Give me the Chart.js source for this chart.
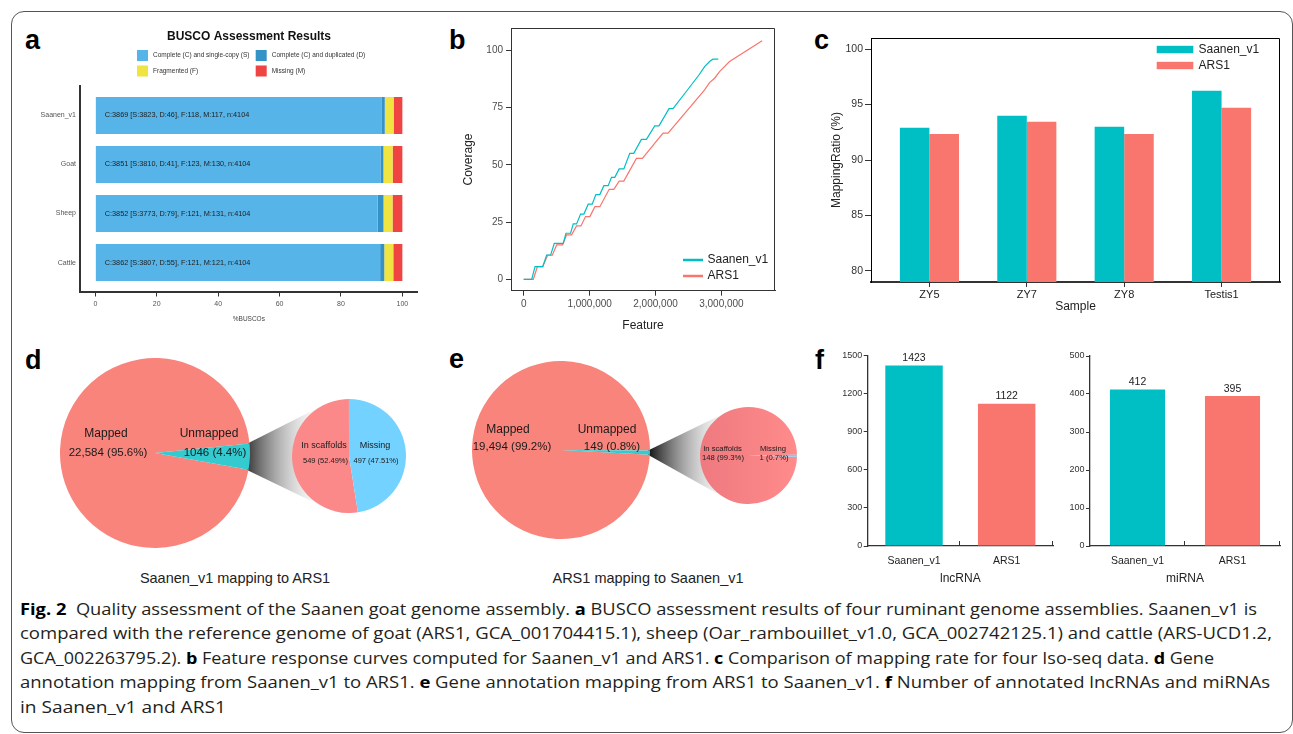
<!DOCTYPE html>
<html><head><meta charset="utf-8">
<script src="https://cdn.jsdelivr.net/npm/chart.js@4.4.1/dist/chart.umd.min.js"></script>
<style>
html,body{margin:0;padding:0;background:#fff;}
#root{position:relative;width:1293px;height:734px;overflow:hidden;background:#fff;font-family:'Liberation Sans',Arial,sans-serif;}
#frame{position:absolute;left:11px;top:11px;width:1282px;height:722px;border:1px solid #555;border-radius:13px;box-sizing:border-box;}
canvas{position:absolute;}
.lbl{position:absolute;font-weight:bold;font-size:27px;line-height:27px;color:#000;}
.ptitle{position:absolute;font-size:14.5px;line-height:16px;color:#222;transform:translateX(-50%);white-space:nowrap;}
.cap{position:absolute;left:20px;font-family:'Open Sans',sans-serif;font-size:16.5px;line-height:20px;color:#231f20;white-space:nowrap;transform-origin:0 50%;}
.cap b{color:#000;font-weight:700;}
</style></head>
<body><div id="root">
<div id="frame"></div>
<div class="lbl" style="left:25px;top:27px">a</div>
<div class="lbl" style="left:449px;top:27px">b</div>
<div class="lbl" style="left:814px;top:27px">c</div>
<div class="lbl" style="left:25px;top:347px">d</div>
<div class="lbl" style="left:449px;top:346px">e</div>
<div class="lbl" style="left:815px;top:347px">f</div>
<div class="ptitle" style="left:235px;top:570px">Saanen_v1 mapping to ARS1</div>
<div class="ptitle" style="left:648px;top:570px">ARS1 mapping to Saanen_v1</div>
<div class="cap" style="top:599px"><b>Fig. 2</b>&nbsp; Quality assessment of the Saanen goat genome assembly. <b>a</b> BUSCO assessment results of four ruminant genome assemblies. Saanen_v1 is</div>
<div class="cap" style="top:623px">compared with the reference genome of goat (ARS1, GCA_001704415.1), sheep (Oar_rambouillet_v1.0, GCA_002742125.1) and cattle (ARS-UCD1.2,</div>
<div class="cap" style="top:648px">GCA_002263795.2). <b>b</b> Feature response curves computed for Saanen_v1 and ARS1. <b>c</b> Comparison of mapping rate for four Iso-seq data. <b>d</b> Gene</div>
<div class="cap" style="top:672px">annotation mapping from Saanen_v1 to ARS1. <b>e</b> Gene annotation mapping from ARS1 to Saanen_v1. <b>f</b> Number of annotated lncRNAs and miRNAs</div>
<div class="cap" style="top:697px">in Saanen_v1 and ARS1</div>
</div>
<script>
// ================= DATA =================
// Panel a: BUSCO
const buscoGenomes = ['Saanen_v1', 'Goat', 'Sheep', 'Cattle'];
const buscoSingle  = [3823, 3810, 3773, 3807];
const buscoDup     = [46, 41, 79, 55];
const buscoFrag    = [118, 123, 121, 121];
const buscoMiss    = [117, 130, 131, 121];
const buscoTotal   = 4104;
const buscoLegend  = ['Complete (C) and single-copy (S)', 'Complete (C) and duplicated (D)', 'Fragmented (F)', 'Missing (M)'];
const buscoXTicks  = [0, 20, 40, 60, 80, 100];

// Panel b: feature response curves
const frcSeries = ['Saanen_v1', 'ARS1'];
const frcSaanenFeature  = [0, 121000, 172000, 288000, 348000, 409000, 464000, 600000, 641000, 711000, 752000, 802000, 863000, 913000, 979000, 1039000, 1095000, 1155000, 1216000, 1282000, 1332000, 1382000, 1448000, 1519000, 1609000, 1670000, 1786000, 1862000, 1988000, 2053000, 2205000, 2265000, 2467000, 2659000, 2745000, 2820000, 2871000, 2952000];
const frcSaanenCoverage = [0, 0, 5.5, 5.5, 10.6, 10.6, 15.7, 15.7, 20.1, 20.1, 24.2, 24.2, 28.5, 28.5, 32.8, 32.8, 37.0, 37.0, 40.9, 40.9, 44.5, 44.5, 48.2, 48.2, 55.0, 55.0, 61.1, 61.1, 67.0, 67.0, 74.5, 74.5, 82.0, 89.2, 92.9, 95.1, 96.1, 96.1];
const frcArsFeature  = [0, 146000, 207000, 288000, 363000, 434000, 500000, 590000, 651000, 727000, 802000, 868000, 938000, 1004000, 1080000, 1155000, 1297000, 1367000, 1448000, 1519000, 1710000, 1801000, 2114000, 2190000, 2745000, 2820000, 2896000, 2972000, 3123000, 3618000];
const frcArsCoverage = [0, 0, 5.5, 5.5, 10.5, 10.5, 15.0, 15.0, 19.4, 19.4, 23.3, 23.3, 27.4, 27.4, 31.7, 31.7, 39.3, 39.3, 42.9, 42.9, 52.8, 52.8, 63.8, 63.8, 82.7, 85.9, 87.8, 90.7, 95.1, 104.2];
const frcXTicks = [0, 1000000, 2000000, 3000000];
const frcYTicks = [0, 25, 50, 75, 100];

// Panel c: mapping ratio
const mapSamples = ['ZY5', 'ZY7', 'ZY8', 'Testis1'];
const mapSaanen  = [92.9, 94.0, 93.0, 96.25];
const mapArs     = [92.35, 93.45, 92.35, 94.7];
const mapYTicks  = [80, 85, 90, 95, 100];

// Panel d
const dLabels    = ['Mapped', 'Unmapped'];
const dCounts    = [22584, 1046];
const dSubLabels = ['In scaffolds', 'Missing'];
const dSubCounts = [549, 497];
// Panel e
const eLabels    = ['Mapped', 'Unmapped'];
const eCounts    = [19494, 149];
const eSubLabels = ['In scaffolds', 'Missing'];
const eSubCounts = [148, 1];

// Panel f
const fCategories = ['Saanen_v1', 'ARS1'];
const lncCounts   = [1423, 1122];
const miCounts    = [412, 395];
const lncYTicks   = [0, 300, 600, 900, 1200, 1500];
const miYTicks    = [0, 100, 200, 300, 400, 500];

// ================= SETUP =================
const CYAN = '#00BFC4', SALMON = '#F8766D';
const FONT = "'Liberation Sans', Arial, Helvetica, sans-serif";
Chart.defaults.font.family = FONT;
Chart.defaults.animation = false;
Chart.defaults.responsive = false;
Chart.defaults.devicePixelRatio = 1;
Chart.defaults.plugins.legend.display = false;
Chart.defaults.plugins.tooltip.enabled = false;
Chart.defaults.color = '#333';
const root = document.getElementById('root');

function mkCanvas(L, T, W, H, z) {
  const c = document.createElement('canvas');
  c.width = W; c.height = H;
  c.style.left = L + 'px'; c.style.top = T + 'px';
  c.style.width = W + 'px'; c.style.height = H + 'px';
  c.style.zIndex = z || 2;
  root.appendChild(c);
  return c;
}
function fitArea(L, T, W, H, a) {
  return { padding: {left: 0, top: a.t - T, right: (L + W) - a.r, bottom: 0}, xH: (T + H) - a.b, yW: a.l - L };
}
function off(chart) { return {x: parseFloat(chart.canvas.style.left), y: parseFloat(chart.canvas.style.top)}; }
const setTicks = arr => (s => { s.ticks = arr.map(v => ({value: v})); });

// ================= PANEL A =================
const buscoPlugin = {
  id: 'buscoDecor',
  afterDatasetsDraw(chart) {
    const ctx = chart.ctx, xs = chart.scales.x, ys = chart.scales.y, o = off(chart);
    ctx.save();
    ctx.font = '7.3px ' + FONT; ctx.fillStyle = '#222'; ctx.textBaseline = 'middle'; ctx.textAlign = 'left';
    buscoGenomes.forEach((g, i) => {
      const c = buscoSingle[i] + buscoDup[i];
      const t = `C:${c} [S:${buscoSingle[i]}, D:${buscoDup[i]}], F:${buscoFrag[i]}, M:${buscoMiss[i]}, n:${buscoTotal}`;
      ctx.fillText(t, xs.getPixelForValue(0) + 9.4, ys.getPixelForValue(i + 1));
    });
    ctx.font = 'bold 12px ' + FONT; ctx.fillStyle = '#111'; ctx.textAlign = 'center';
    ctx.fillText('BUSCO Assessment Results', 249 - o.x, 37 - o.y);
    const pos = [[137, 50], [255.7, 50], [137, 65.5], [255.7, 65.5]];
    ctx.font = '6.5px ' + FONT; ctx.textAlign = 'left';
    chart.data.datasets.forEach((d, i) => {
      const [px, py] = pos[i];
      ctx.fillStyle = d.backgroundColor;
      ctx.fillRect(px - o.x, py - o.y, 11, 11);
      ctx.fillStyle = '#333';
      ctx.fillText(d.label, px + 16 - o.x, py + 5.7 - o.y);
    });
    ctx.restore();
  }
};
(function () {
  const L = 0, T = 20, W = 430, H = 303;
  const f = fitArea(L, T, W, H, {l: 80, t: 86, r: 417.7, b: 292});
  const pts = arr => arr.map((v, i) => ({x: v / buscoTotal * 100, y: i + 1}));
  new Chart(mkCanvas(L, T, W, H), {
    type: 'bar',
    data: {datasets: [
      {label: buscoLegend[0], data: pts(buscoSingle), backgroundColor: '#56B4E9'},
      {label: buscoLegend[1], data: pts(buscoDup), backgroundColor: '#3492C7'},
      {label: buscoLegend[2], data: pts(buscoFrag), backgroundColor: '#F0E442'},
      {label: buscoLegend[3], data: pts(buscoMiss), backgroundColor: '#F04442'}
    ]},
    options: {
      indexAxis: 'y',
      layout: {padding: f.padding},
      datasets: {bar: {barPercentage: 1, categoryPercentage: 0.755, borderWidth: 0}},
      scales: {
        x: {type: 'linear', stacked: true, min: -5, max: 105, offset: false,
            afterFit: s => { s.height = f.xH; },
            afterBuildTicks: setTicks(buscoXTicks),
            ticks: {font: {size: 7}, color: '#555', padding: 3, maxRotation: 0, autoSkip: false, callback: v => String(v)},
            grid: {display: true, offset: false, drawOnChartArea: false, drawTicks: true, tickLength: 4.5, color: '#333'},
            border: {display: true, color: '#333', width: 2},
            title: {display: true, text: '%BUSCOs', font: {size: 6.5}, color: '#444', padding: 0}},
        y: {type: 'linear', stacked: true, min: 0.4, max: 4.6, reverse: true, offset: false,
            afterFit: s => { s.width = f.yW; },
            afterBuildTicks: setTicks(buscoGenomes.map((g, i) => i + 1)),
            ticks: {callback: v => buscoGenomes[v - 1] || '', font: {size: 7}, color: '#555', padding: 4, autoSkip: false},
            grid: {display: false, offset: false, drawTicks: false},
            border: {display: true, color: '#333', width: 2}}
      }
    },
    plugins: [buscoPlugin]
  });
})();

// ================= PANEL B =================
const boxPlugin = {
  id: 'boxFrame',
  afterDraw(chart, args, opts) {
    const a = chart.chartArea, ctx = chart.ctx;
    ctx.save(); ctx.strokeStyle = opts.color || '#333'; ctx.lineWidth = 1;
    ctx.beginPath();
    ctx.moveTo(Math.round(a.left) + 0.5, Math.round(a.top) + 0.5);
    ctx.lineTo(Math.round(a.right) - 0.5, Math.round(a.top) + 0.5);
    ctx.lineTo(Math.round(a.right) - 0.5, Math.round(a.bottom));
    ctx.stroke(); ctx.restore();
  }
};
const frcLegendPlugin = {
  id: 'frcLegend',
  afterDraw(chart) {
    const ctx = chart.ctx, o = off(chart);
    ctx.save(); ctx.font = '12px ' + FONT; ctx.textBaseline = 'middle'; ctx.textAlign = 'left';
    const ys = [260, 276];
    chart.data.datasets.forEach((d, i) => {
      ctx.strokeStyle = d.borderColor; ctx.lineWidth = 2.5;
      ctx.beginPath(); ctx.moveTo(683 - o.x, ys[i] - o.y); ctx.lineTo(703 - o.x, ys[i] - o.y); ctx.stroke();
      ctx.fillStyle = '#222'; ctx.fillText(d.label, 707.5 - o.x, ys[i] - o.y);
    });
    ctx.restore();
  }
};
(function () {
  const L = 461, T = 15, W = 339, H = 318;
  const f = fitArea(L, T, W, H, {l: 511, t: 28.3, r: 775, b: 290.7});
  new Chart(mkCanvas(L, T, W, H), {
    type: 'line',
    data: {datasets: [
      {label: frcSeries[0], data: frcSaanenFeature.map((x, i) => ({x, y: frcSaanenCoverage[i]})), borderColor: CYAN, borderWidth: 1.2, pointRadius: 0, tension: 0, fill: false},
      {label: frcSeries[1], data: frcArsFeature.map((x, i) => ({x, y: frcArsCoverage[i]})), borderColor: SALMON, borderWidth: 1.2, pointRadius: 0, tension: 0, fill: false}
    ]},
    options: {
      layout: {padding: f.padding},
      scales: {
        x: {type: 'linear', min: -193000, max: 3813000,
            afterFit: s => { s.height = f.xH; },
            afterBuildTicks: setTicks(frcXTicks),
            ticks: {callback: v => Number(v).toLocaleString('en-US'), font: {size: 10}, color: '#4d4d4d', padding: 3, maxRotation: 0, autoSkip: false},
            grid: {display: true, drawOnChartArea: false, tickLength: 5, color: '#333'},
            border: {display: true, color: '#333', width: 1},
            title: {display: true, text: 'Feature', font: {size: 12}, color: '#222', padding: 0}},
        y: {type: 'linear', min: -4.98, max: 109.6,
            afterFit: s => { s.width = f.yW; },
            afterBuildTicks: setTicks(frcYTicks),
            ticks: {callback: v => String(v), font: {size: 10}, color: '#4d4d4d', padding: 3, autoSkip: false},
            grid: {display: true, drawOnChartArea: false, tickLength: 5, color: '#333'},
            border: {display: true, color: '#333', width: 1},
            title: {display: true, text: 'Coverage', font: {size: 12}, color: '#222', padding: 0}}
      },
      plugins: {boxFrame: {color: '#333'}}
    },
    plugins: [boxPlugin, frcLegendPlugin]
  });
})();

// ================= PANEL C =================
const mapLegendPlugin = {
  id: 'mapLegend',
  afterDraw(chart) {
    const ctx = chart.ctx, o = off(chart);
    ctx.save(); ctx.font = '12px ' + FONT; ctx.textBaseline = 'middle'; ctx.textAlign = 'left';
    const ys = [49.5, 65.5];
    chart.data.datasets.forEach((d, i) => {
      ctx.fillStyle = d.backgroundColor;
      ctx.fillRect(1156.7 - o.x, ys[i] - 3.7 - o.y, 36.6, 7.4);
      ctx.fillStyle = '#222'; ctx.fillText(d.label, 1198.5 - o.x, ys[i] - o.y);
    });
    ctx.restore();
  }
};
(function () {
  const L = 829, T = 25, W = 461, H = 289;
  const f = fitArea(L, T, W, H, {l: 871, t: 38, r: 1280, b: 282});
  new Chart(mkCanvas(L, T, W, H), {
    type: 'bar',
    data: {datasets: [
      {label: 'Saanen_v1', data: mapSaanen.map((v, i) => ({x: i, y: v})), backgroundColor: CYAN},
      {label: 'ARS1', data: mapArs.map((v, i) => ({x: i, y: v})), backgroundColor: SALMON}
    ]},
    options: {
      layout: {padding: f.padding},
      datasets: {bar: {barPercentage: 1, categoryPercentage: 0.607, borderWidth: 0}},
      scales: {
        x: {type: 'linear', min: -0.6, max: 3.6, offset: false,
            afterFit: s => { s.height = f.xH; },
            afterBuildTicks: setTicks(mapSamples.map((s, i) => i)),
            ticks: {callback: v => mapSamples[v] ?? '', font: {size: 11}, color: '#222', padding: 1.5, maxRotation: 0, autoSkip: false},
            grid: {display: true, offset: false, drawOnChartArea: false, tickLength: 5, color: '#333'},
            border: {display: true, color: '#333', width: 2},
            title: {display: true, text: 'Sample', font: {size: 12}, color: '#222', padding: 0}},
        y: {type: 'linear', min: 79, max: 101,
            afterFit: s => { s.width = f.yW; },
            afterBuildTicks: setTicks(mapYTicks),
            ticks: {callback: v => String(v), font: {size: 10.5}, color: '#333', padding: 2, autoSkip: false},
            grid: {display: true, drawOnChartArea: false, tickLength: 6, color: '#333'},
            border: {display: true, color: '#000', width: 1},
            title: {display: true, text: 'MappingRatio (%)', font: {size: 12}, color: '#222', padding: 0}}
      },
      plugins: {boxFrame: {color: '#000'}}
    },
    plugins: [boxPlugin, mapLegendPlugin]
  });
})();

// ================= PANEL F =================
const fDecor = {
  id: 'fDecor',
  afterDatasetsDraw(chart) {
    const ctx = chart.ctx, a = chart.chartArea, meta = chart.getDatasetMeta(0);
    ctx.save();
    ctx.font = '10.5px ' + FONT; ctx.fillStyle = '#222'; ctx.textAlign = 'center'; ctx.textBaseline = 'bottom';
    meta.data.forEach((bar, i) => ctx.fillText(String(chart.data.datasets[0].data[i]), bar.x, bar.y - 2));
    const n = chart.data.labels.length, w = (a.right - a.left) / n;
    ctx.strokeStyle = '#333'; ctx.lineWidth = 1;
    for (let k = 1; k <= n; k++) {
      const x = Math.round(a.left + k * w) - 0.5;
      ctx.beginPath(); ctx.moveTo(x, a.bottom); ctx.lineTo(x, a.bottom - 5); ctx.stroke();
    }
    ctx.restore();
  }
};
function makeF(L, W, area, values, max, ticksArr, title, barPct) {
  const T = 330, H = 256;
  const f = fitArea(L, T, W, H, area);
  return new Chart(mkCanvas(L, T, W, H), {
    type: 'bar',
    data: {labels: fCategories, datasets: [{label: title, data: values, backgroundColor: [CYAN, SALMON], barPercentage: barPct, categoryPercentage: 1, borderWidth: 0}]},
    options: {
      layout: {padding: f.padding},
      scales: {
        x: {afterFit: s => { s.height = f.xH; },
            ticks: {font: {size: 10.5}, color: '#222', padding: 8.5, maxRotation: 0},
            grid: {display: false, drawTicks: false},
            border: {display: true, color: '#333', width: 1.3},
            title: {display: true, text: title, font: {size: 12}, color: '#222', padding: 0}},
        y: {min: 0, max: max, afterFit: s => { s.width = f.yW; },
            afterBuildTicks: setTicks(ticksArr),
            ticks: {callback: v => String(v), font: {size: 9}, color: '#333', padding: 1.5, autoSkip: false},
            grid: {display: true, drawOnChartArea: false, tickLength: 4, color: '#333'},
            border: {display: true, color: '#333', width: 1.3}}
      }
    },
    plugins: [fDecor]
  });
}
makeF(825, 235, {l: 867.7, t: 355.7, r: 1053, b: 546}, lncCounts, 1500, lncYTicks, 'lncRNA', 0.62);
makeF(1055, 235, {l: 1090, t: 356, r: 1280, b: 546}, miCounts, 500, miYTicks, 'miRNA', 0.58);

// ================= PANELS D & E (pies) =================
const pieLabelPlugin = {
  id: 'pieLabels',
  afterDatasetsDraw(chart, args, opts) {
    const ctx = chart.ctx, arc = chart.getDatasetMeta(0).data[0];
    ctx.save(); ctx.fillStyle = '#1a1a1a'; ctx.textAlign = 'center'; ctx.textBaseline = 'middle';
    (opts.items || []).forEach(it => {
      ctx.font = it.size + 'px ' + FONT;
      ctx.fillText(it.text, arc.x + it.dx, arc.y + it.dy);
    });
    ctx.restore();
  }
};
function fmtCount(n) { return n >= 10000 ? n.toLocaleString('en-US') : String(n); }
function pieItems(labels, counts, dec, nameOff, valOff, nameSize, valSize) {
  const tot = counts.reduce((s, v) => s + v, 0);
  const items = [];
  labels.forEach((l, i) => {
    items.push({text: l, dx: nameOff[i][0], dy: nameOff[i][1], size: nameSize});
    items.push({text: `${fmtCount(counts[i])} (${(counts[i] / tot * 100).toFixed(dec)}%)`, dx: valOff[i][0], dy: valOff[i][1], size: valSize});
  });
  return items;
}
function makePie(cx, cy, r, labels, counts, colors, rotation, items, z) {
  const c = mkCanvas(cx - r, cy - r, 2 * r, 2 * r, z);
  return new Chart(c, {
    type: 'pie',
    data: {labels, datasets: [{data: counts, backgroundColor: colors, borderWidth: 0, hoverBorderWidth: 0, hoverOffset: 0, offset: 0}]},
    options: {rotation, layout: {padding: 0}, plugins: {pieLabels: {items}}},
    plugins: [pieLabelPlugin]
  });
}
// d
const dBig = makePie(155, 453, 95, dLabels, dCounts, ['#F8847C', '#33CBCF'], 100.2,
  pieItems(dLabels, dCounts, 1, [[-49, -19], [54, -19]], [[-47, 0], [60, 0]], 12, 11.5), 3);
const dSmall = makePie(349, 456, 57, dSubLabels, dSubCounts, ['#FC8989', '#73D2FF'], 171,
  pieItems(dSubLabels, dSubCounts, 2, [[-25, -10], [26, -10]], [[-23.5, 5], [27, 5]], 9, 7.5), 4);
// e
const eBig = makePie(561, 450, 89, eLabels, eCounts, ['#F8847C', '#33CBCF'], 93,
  pieItems(eLabels, eCounts, 1, [[-53, -20], [46, -20]], [[-49, -3], [51, -3]], 12, 11.5), 3);
const eSmallColor = (ctx) => {
  if (ctx.dataIndex === 1) return '#78CFF5';
  const ch = ctx.chart, a = ch.chartArea;
  if (!a) return '#F8858A';
  const g = ch.ctx.createLinearGradient(a.left, 0, a.right, 0);
  g.addColorStop(0, '#EE7A80'); g.addColorStop(1, '#FF8B8B');
  return g;
};
const eSmall = makePie(748.5, 455.5, 48.5, eSubLabels, eSubCounts, eSmallColor, 91.5,
  pieItems(eSubLabels, eSubCounts, 1, [[-26, -6.5], [24.5, -6.5]], [[-25.5, 2.5], [25.5, 2.5]], 7.7, 7.7), 4);

// connectors (decoration between big and small pies)
(function () {
  const CL = 0, CT = 330, cv = mkCanvas(CL, CT, 830, 260, 1);
  const ctx = cv.getContext('2d');
  function conn(big, small, dark, fadeExtra) {
    const bo = off(big), so = off(small);
    const bm = big.getDatasetMeta(0).data[1];
    const sm = small.getDatasetMeta(0).data[0];
    const cx = bm.x + bo.x - CL, cy = bm.y + bo.y - CT, R = bm.outerRadius;
    const p1 = [cx + R * Math.cos(bm.startAngle), cy + R * Math.sin(bm.startAngle)];
    const p2 = [cx + R * Math.cos(bm.endAngle), cy + R * Math.sin(bm.endAngle)];
    const sx = sm.x + so.x - CL, sy = sm.y + so.y - CT, r = sm.outerRadius;
    const tan = (p, sign) => {
      const dx = sx - p[0], dy = sy - p[1], d = Math.hypot(dx, dy);
      const th = Math.atan2(dy, dx), al = Math.asin(Math.min(1, r / d)), Lt = Math.sqrt(Math.max(0, d * d - r * r));
      return [p[0] + Lt * Math.cos(th + sign * al), p[1] + Lt * Math.sin(th + sign * al)];
    };
    const t1 = tan(p1, -1), t2 = tan(p2, 1);
    const x0 = Math.min(p1[0], p2[0]) - 2;
    const g = ctx.createLinearGradient(x0, 0, Math.max(t1[0], t2[0]) + fadeExtra, 0);
    g.addColorStop(0, dark); g.addColorStop(1, 'rgba(255,255,255,0)');
    ctx.fillStyle = g;
    ctx.beginPath(); ctx.moveTo(p1[0] - 2, p1[1]); ctx.lineTo(t1[0], t1[1]); ctx.lineTo(sx, sy); ctx.lineTo(t2[0], t2[1]); ctx.lineTo(p2[0] - 2, p2[1]); ctx.closePath(); ctx.fill();
  }
  conn(dBig, dSmall, 'rgba(55,55,55,1)', 8);
  conn(eBig, eSmall, 'rgba(15,15,15,1)', 12);
})();

// ================= CAPTION FIT =================
function fitCaption() {
  const targets = [1257, 1272, 1214, 1270, 226];
  document.querySelectorAll('.cap').forEach((el, i) => {
    el.style.transform = 'none';
    const w = el.getBoundingClientRect().width;
    el.style.transform = `scaleX(${(targets[i] - 20) / w})`;
  });
}
fitCaption();
if (document.fonts && document.fonts.ready) document.fonts.ready.then(fitCaption);
</script>
</body></html>
